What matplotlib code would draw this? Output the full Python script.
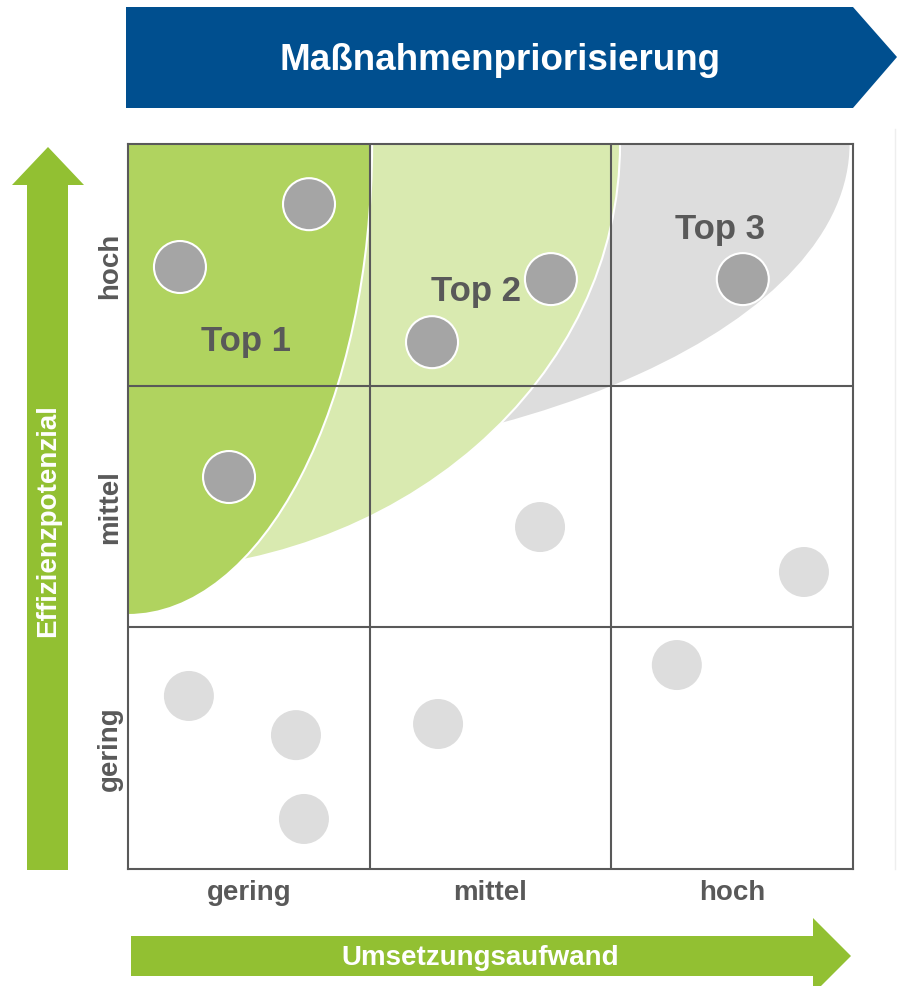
import numpy as np
import matplotlib.pyplot as plt
from matplotlib.patches import Ellipse, Circle, Polygon

plt.rcParams['font.family'] = ['Liberation Sans', 'DejaVu Sans']

# axis categories
levels = ["gering", "mittel", "hoch"]

# priority zones: semi axes (x, y) of the quarter ellipses from the top left corner
zone_names = ["Top 3", "Top 2", "Top 1"]
zone_ax = [2.99, 2.036, 1.01]
zone_ay = [1.353, 1.771, 1.949]
zone_colors = ["#dddddd", "#d9eab0", "#b0d35f"]

# measures inside a priority zone (Umsetzungsaufwand, Effizienzpotenzial)
top_x = [0.749, 0.215, 0.418, 1.258, 1.750, 2.544]
top_y = [2.751, 2.491, 1.622, 2.180, 2.441, 2.441]

# other measures
rest_x = [1.705, 2.797, 0.252, 0.695, 0.728, 1.283, 2.271]
rest_y = [1.415, 1.229, 0.716, 0.554, 0.207, 0.600, 0.844]

W, H = 897, 987
fig = plt.figure(figsize=(W / 100, H / 100), dpi=100)

# background axes in pixel units for banner and arrows
bg = fig.add_axes([0, 0, 1, 1])
bg.set_xlim(0, W)
bg.set_ylim(H, 0)
bg.axis("off")

blue = "#004f8f"
green = "#92c032"

banner = Polygon([[126, 8], [853, 8], [897, 58], [853, 109], [126, 109]],
                 closed=True, facecolor=blue, edgecolor="none")
bg.add_patch(banner)
bg.text(500, 60, "Maßnahmenpriorisierung", color="white", fontsize=26.5,
        fontweight="bold", ha="center", va="center")

up = Polygon([[27, 871], [27, 186], [12, 186], [48, 148], [84, 186], [68, 186], [68, 871]],
             closed=True, facecolor=green, edgecolor="none")
bg.add_patch(up)
bg.text(48, 521, "Effizienzpotenzial", color="white", fontsize=20, fontweight="bold",
        rotation=90, ha="center", va="center")

right = Polygon([[131, 937], [813, 937], [813, 919], [851, 957], [813, 995], [813, 977], [131, 977]],
                closed=True, facecolor=green, edgecolor="none")
bg.add_patch(right)
bg.text(480, 958, "Umsetzungsaufwand", color="white", fontsize=20, fontweight="bold",
        ha="center", va="center")

bg.plot([895, 895], [130, 870], color="#eeeeee", lw=1)

# main matrix
ax = fig.add_axes([128 / W, (H - 870) / H, 725 / W, 725 / H])
ax.set_xlim(0, 3)
ax.set_ylim(0, 3)
ax.set_xticks([])
ax.set_yticks([])
for s in ax.spines.values():
    s.set_color("#595959")
    s.set_linewidth(1.5)
    s.set_zorder(5)

for i in range(len(zone_names)):
    e = Ellipse((0, 3), 2 * zone_ax[i], 2 * zone_ay[i], facecolor=zone_colors[i],
                edgecolor="white", lw=1.5, zorder=1 + i * 0.1)
    ax.add_patch(e)

for v in [1, 2]:
    ax.axvline(v, color="#595959", lw=1.5, zorder=2)
    ax.axhline(v, color="#595959", lw=1.5, zorder=2)

r = 26 / 241.67
for x, y in zip(rest_x, rest_y):
    ax.add_patch(Circle((x, y), 25 / 241.67, facecolor="#dddddd", edgecolor="none", zorder=3))
for x, y in zip(top_x, top_y):
    ax.add_patch(Circle((x, y), r, facecolor="#a5a5a5", edgecolor="white", lw=1.5, zorder=4))

label_pos = {"Top 1": (0.490, 2.148), "Top 2": (1.438, 2.354), "Top 3": (2.448, 2.611)}
for name in zone_names:
    lx, ly = label_pos[name]
    ax.text(lx, ly, name, color="#595959", fontsize=25, fontweight="bold",
            ha="center", va="baseline", zorder=4.5)

for i, lab in enumerate(levels):
    ax.text(i + 0.5, -0.095, lab, color="#595959", fontsize=20, fontweight="bold",
            ha="center", va="center", transform=ax.transData, clip_on=False)
    ax.text(-0.075, i + 0.5, lab, color="#595959", fontsize=20, fontweight="bold",
            ha="center", va="center", rotation=90, clip_on=False)

fig.savefig("out.png", dpi=100)
